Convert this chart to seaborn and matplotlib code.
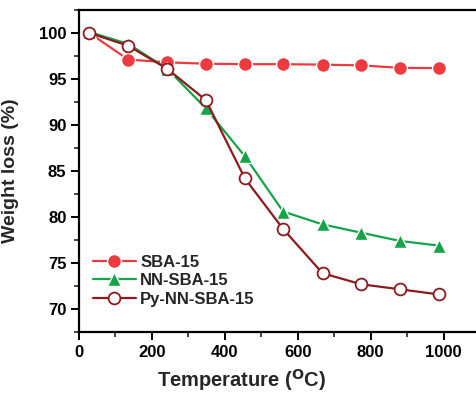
import pandas as pd
import matplotlib
matplotlib.use('Agg')
import matplotlib.pyplot as plt
import seaborn as sns
from matplotlib.ticker import MultipleLocator

# Data
temperature = [28, 135, 242, 348, 455, 560, 668, 774, 881, 987]
sba15 = [100.0, 97.1, 96.8, 96.65, 96.6, 96.6, 96.55, 96.47, 96.2, 96.17]
nn_sba15 = [100.1, 98.8, 96.1, 91.8, 86.6, 80.6, 79.2, 78.3, 77.4, 76.9]
py_nn_sba15 = [100.0, 98.6, 96.1, 92.7, 84.2, 78.7, 73.9, 72.7, 72.15, 71.6]

sns.set_theme(style='ticks')
plt.rcParams['font.family'] = ['Liberation Sans', 'DejaVu Sans']
plt.rcParams['font.weight'] = 'bold'
plt.rcParams['axes.labelweight'] = 'bold'

fig = plt.figure(figsize=(4.77, 3.94), dpi=100)
ax = fig.add_axes([0.1656, 0.157, 0.8407, 0.818])

df = pd.DataFrame({'T': temperature, 'SBA-15': sba15,
                   'NN-SBA-15': nn_sba15, 'Py-NN-SBA-15': py_nn_sba15})

sns.lineplot(data=df, x='T', y='SBA-15', ax=ax, color='#ee3a3f', lw=1.6,
             marker='o', markersize=10, markeredgecolor='white',
             markeredgewidth=1.0, label='SBA-15')
sns.lineplot(data=df, x='T', y='NN-SBA-15', ax=ax, color='#16a34a', lw=1.6,
             marker='^', markersize=10, markeredgecolor='white',
             markeredgewidth=1.0, label='NN-SBA-15')
sns.lineplot(data=df, x='T', y='Py-NN-SBA-15', ax=ax, color='#8c1a1e', lw=1.6,
             marker='o', markersize=8.5, markerfacecolor='white',
             markeredgecolor='#8c1a1e', markeredgewidth=1.3,
             label='Py-NN-SBA-15')

ax.set_xlim(0, 1100)
ax.set_ylim(67.5, 102.5)
ax.xaxis.set_major_locator(MultipleLocator(200))
ax.xaxis.set_minor_locator(MultipleLocator(100))
ax.yaxis.set_major_locator(MultipleLocator(5))
ax.yaxis.set_minor_locator(MultipleLocator(2.5))
ax.set_xticks([0, 200, 400, 600, 800, 1000])

for s in ax.spines.values():
    s.set_linewidth(1.6)
    s.set_color('black')
ax.tick_params(which='major', length=6, width=1.4, labelsize=12, colors='black', pad=3)
ax.tick_params(which='minor', length=3.5, width=1.2)

ax.set_xlabel('Temperature ($^{\\rm O}$C)', fontsize=14.5, fontweight='bold')
ax.set_ylabel('Weight loss (%)', fontsize=14, fontweight='bold')
ax.xaxis.set_label_coords(0.405, -0.108)
ax.yaxis.set_label_coords(-0.15, 0.5)

ax.legend(loc='lower left', bbox_to_anchor=(0.005, 0.043), frameon=False,
          fontsize=12, handlelength=2.6, handletextpad=0.25, labelspacing=0.2,
          borderaxespad=0.3)

fig.savefig('out.png', dpi=100)
